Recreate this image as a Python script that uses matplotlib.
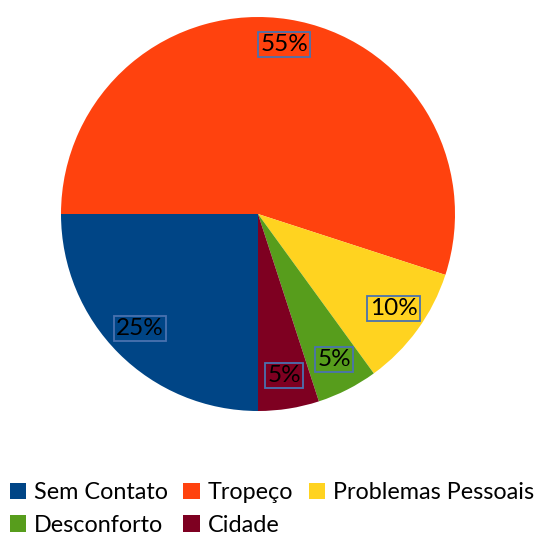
import matplotlib
matplotlib.use('Agg')
import matplotlib.pyplot as plt
from matplotlib.patches import Patch

categories = ['Sem Contato', 'Tropeço', 'Problemas Pessoais', 'Desconforto', 'Cidade']
values = [25, 55, 10, 5, 5]
colors = ['#004586', '#ff420e', '#ffd320', '#579d1c', '#7e0021']

plt.rcParams['font.family'] = ['Lato', 'DejaVu Sans']

fig = plt.figure(figsize=(5.44, 5.38), dpi=100)
ax = fig.add_axes([61 / 544, 127 / 538, 394 / 544, 394 / 538])

wedges, texts, autotexts = ax.pie(
    values, colors=colors, startangle=270, counterclock=False,
    autopct='%d%%', pctdistance=0.85,
    textprops=dict(fontsize=17.5, color='black'))
for t in autotexts:
    t.set_bbox(dict(facecolor='none', edgecolor='#4a72b0', linewidth=1.3, pad=1.5))
    x, y = t.get_position()
    t.set_position((x, y + 0.02))
ax.set_xlim(-1, 1)
ax.set_ylim(-1, 1)

# legend fills row by row in the reference
order = [0, 3, 1, 4, 2]
handles = [Patch(facecolor=colors[i], label=categories[i]) for i in order]
fig.legend(handles=handles, ncol=3, loc='upper left', bbox_to_anchor=(0.018, 0.104),
           frameon=False, fontsize=16.8, handlelength=0.7, handleheight=0.7,
           handletextpad=0.35, columnspacing=0.65, labelspacing=0.5, borderaxespad=0,
           borderpad=0)

plt.savefig('out.png', dpi=100)
